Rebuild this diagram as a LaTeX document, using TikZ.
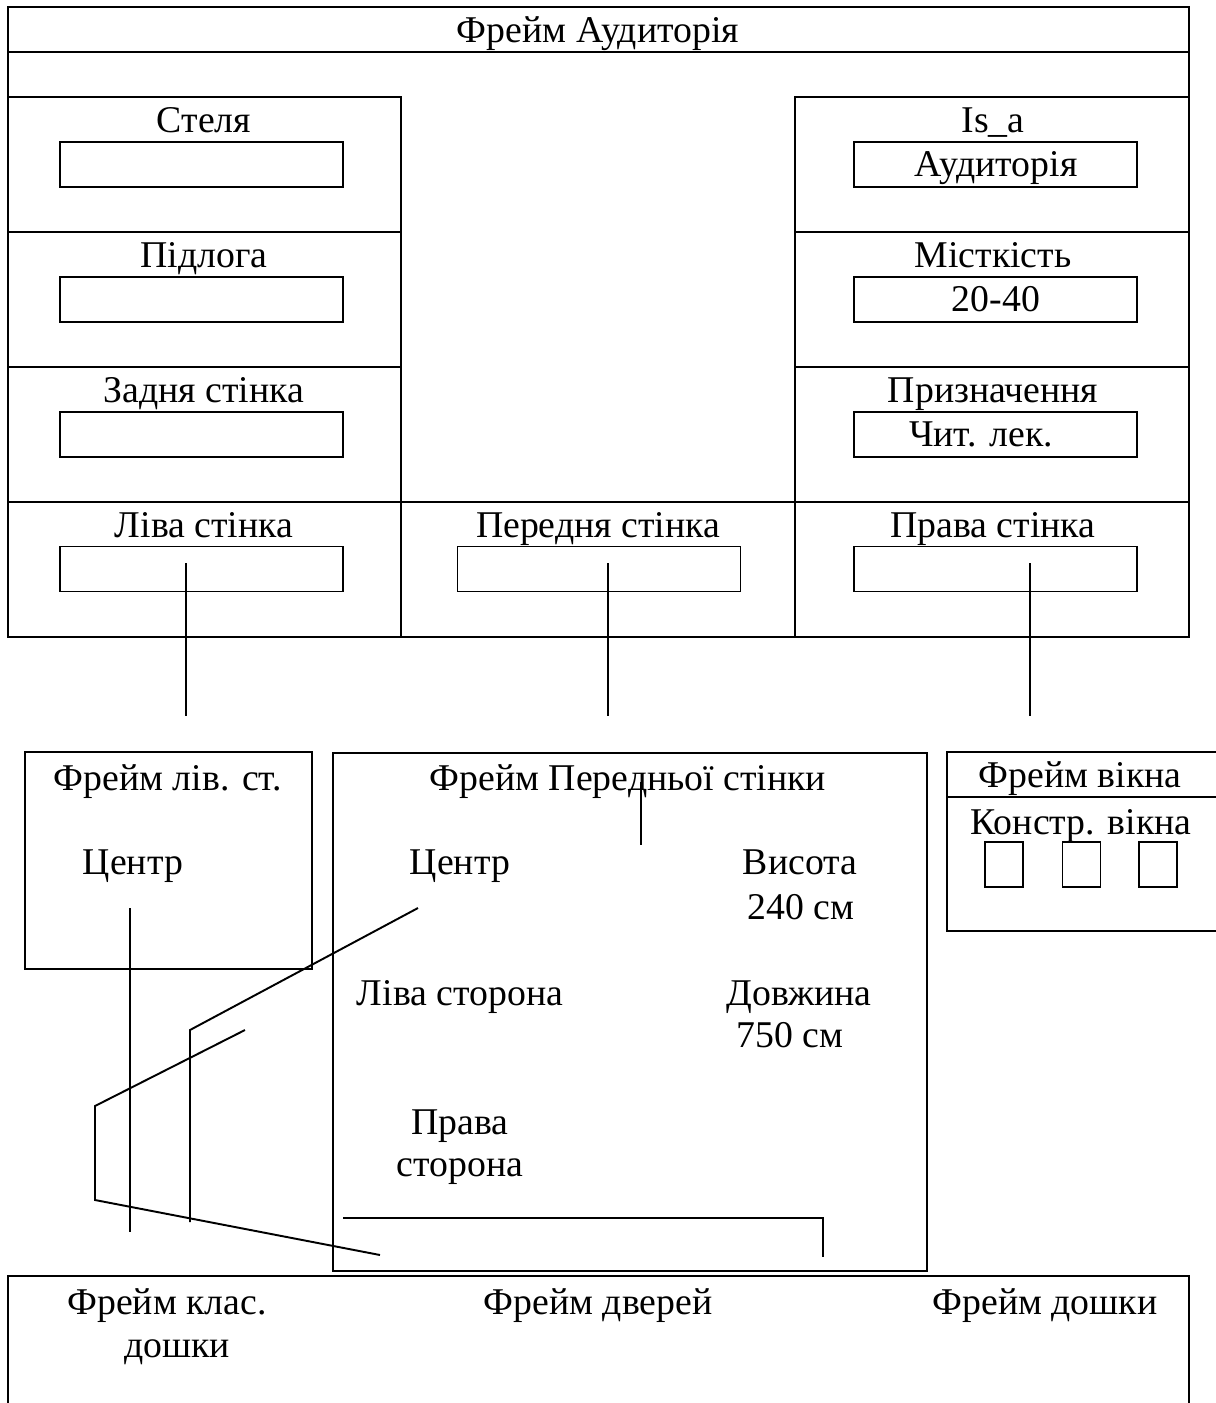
\documentclass[tikz,border=0pt]{standalone}
\usepackage{fontspec}
\setmainfont{Liberation Serif}
\begin{document}
\begin{tikzpicture}[x=0.02cm,y=-0.02cm,line width=1.1pt,
		lbl/.style={font=\fontsize{21.5}{25}\selectfont,inner sep=0pt,anchor=base},
		slot/.style={draw,minimum width=5.66cm,minimum height=0.9cm,inner sep=0pt},
		cell/.style={draw,minimum width=0.76cm,minimum height=0.9cm,inner sep=0pt},
		wire/.style={line width=0.9pt}]
				\useasboundingbox (0,0) rectangle (1215,1403);
				
				\draw (8,7) rectangle (1189,52);
				\draw (8,52) -- (8,637) -- (1189,637) -- (1189,52);
				\draw (8,97) -- (401,97) -- (401,637);
				\draw (795,637) -- (795,97) -- (1189,97);
				\draw (8,232) -- (401,232);
				\draw (8,367) -- (401,367);
				\draw (8,502) -- (1189,502);
				\draw (795,232) -- (1189,232);
				\draw (795,367) -- (1189,367);
				\node[lbl] (title) at (598,42) {Фрейм Аудиторія};
				
				\node[lbl] (ceil) at (204,132) {Стеля};
				\node[slot] (ceilv) at (201.5,164.5) {};
				\node[lbl] (floor) at (204,267) {Підлога};
				\node[slot] (floorv) at (201.5,299.5) {};
				\node[lbl] (back) at (204,402) {Задня стінка};
				\node[slot] (backv) at (201.5,434.5) {};
				\node[lbl] (left) at (204,537) {Ліва стінка};
				\node[slot] (leftv) at (201.5,569) {};
				
				\node[lbl] (isa) at (993,132) {Is\_a};
				\node[slot] (isav) at (995.5,164.5) {};
				\node[lbl] (isat) at (996,176) {Аудиторія};
				\node[lbl] (cap) at (993,267) {Місткість};
				\node[slot] (capv) at (995.5,299.5) {};
				\node[lbl] (capt) at (996,311) {20-40};
				\node[lbl] (use) at (993,402) {Призначення};
				\node[slot] (usev) at (995.5,434.5) {};
				\node[lbl] (uset) at (981,446) {Чит. лек.};
				\node[lbl] (right) at (993,537) {Права стінка};
				\node[slot] (rightv) at (995.5,569) {};
				
				\node[lbl] (front) at (598,537) {Передня стінка};
				\node[slot] (frontv) at (599,569) {};
				
				\coordinate (lend) at (186,716);
				\coordinate (fend) at (608,716);
				\coordinate (rend) at (1030,716);
				\draw[wire] (186,563) -- (lend);
				\draw[wire] (608,563) -- (fend);
				\draw[wire] (1030,563) -- (rend);
				
				\draw (25,752) rectangle (312,969);
				\node[lbl] (lframe) at (168,790) {Фрейм лів. ст.};
				\node[lbl] (lcentre) at (133,874) {Центр};
				
				\draw (333,753) rectangle (927,1271);
				\node[lbl] (fframe) at (628,790) {Фрейм Передньої стінки};
				\node[lbl] (fcentre) at (460,874) {Центр};
				\node[lbl] (height) at (800,874) {Висота};
				\node[lbl] (heightv) at (801,919) {240 см};
				\node[lbl] (lside) at (460,1005) {Ліва сторона};
				\node[lbl] (length) at (799,1005) {Довжина};
				\node[lbl] (lengthv) at (790,1047) {750 см};
				\node[lbl] (rside) at (460,1134) {Права};
				\node[lbl] (rside2) at (460,1176) {сторона};
				\draw[wire] (641,782) -- (641,845);
				\draw (343,1218) -- (823,1218) -- (823,1257);
				
				\draw (1216,752) -- (947,752) -- (947,931) -- (1216,931);
				\draw (947,797) -- (1216,797);
				\node[lbl] (wframe) at (1080,787) {Фрейм вікна};
				\node[lbl] (wbuild) at (1081,834) {Констр. вікна};
				\node[cell] (pane1) at (1004,864.5) {};
				\node[cell] (pane2) at (1081.5,864.5) {};
				\node[cell] (pane3) at (1158,864.5) {};
				
				\draw[wire] (130,908) -- (130,1232);
				\draw (418,908) -- (190,1030) -- (190,1222);
				\draw (245,1030) -- (95,1106) -- (95,1200) -- (380,1255);
				
				\draw (8,1410) -- (8,1276) -- (1189,1276) -- (1189,1410);
				\node[lbl] (board) at (167,1314) {Фрейм клас.};
				\node[lbl] (board2) at (177,1357) {дошки};
				\node[lbl] (door) at (598,1314) {Фрейм дверей};
				\node[lbl] (desk) at (1045,1314) {Фрейм дошки};
\end{tikzpicture}
\end{document}
